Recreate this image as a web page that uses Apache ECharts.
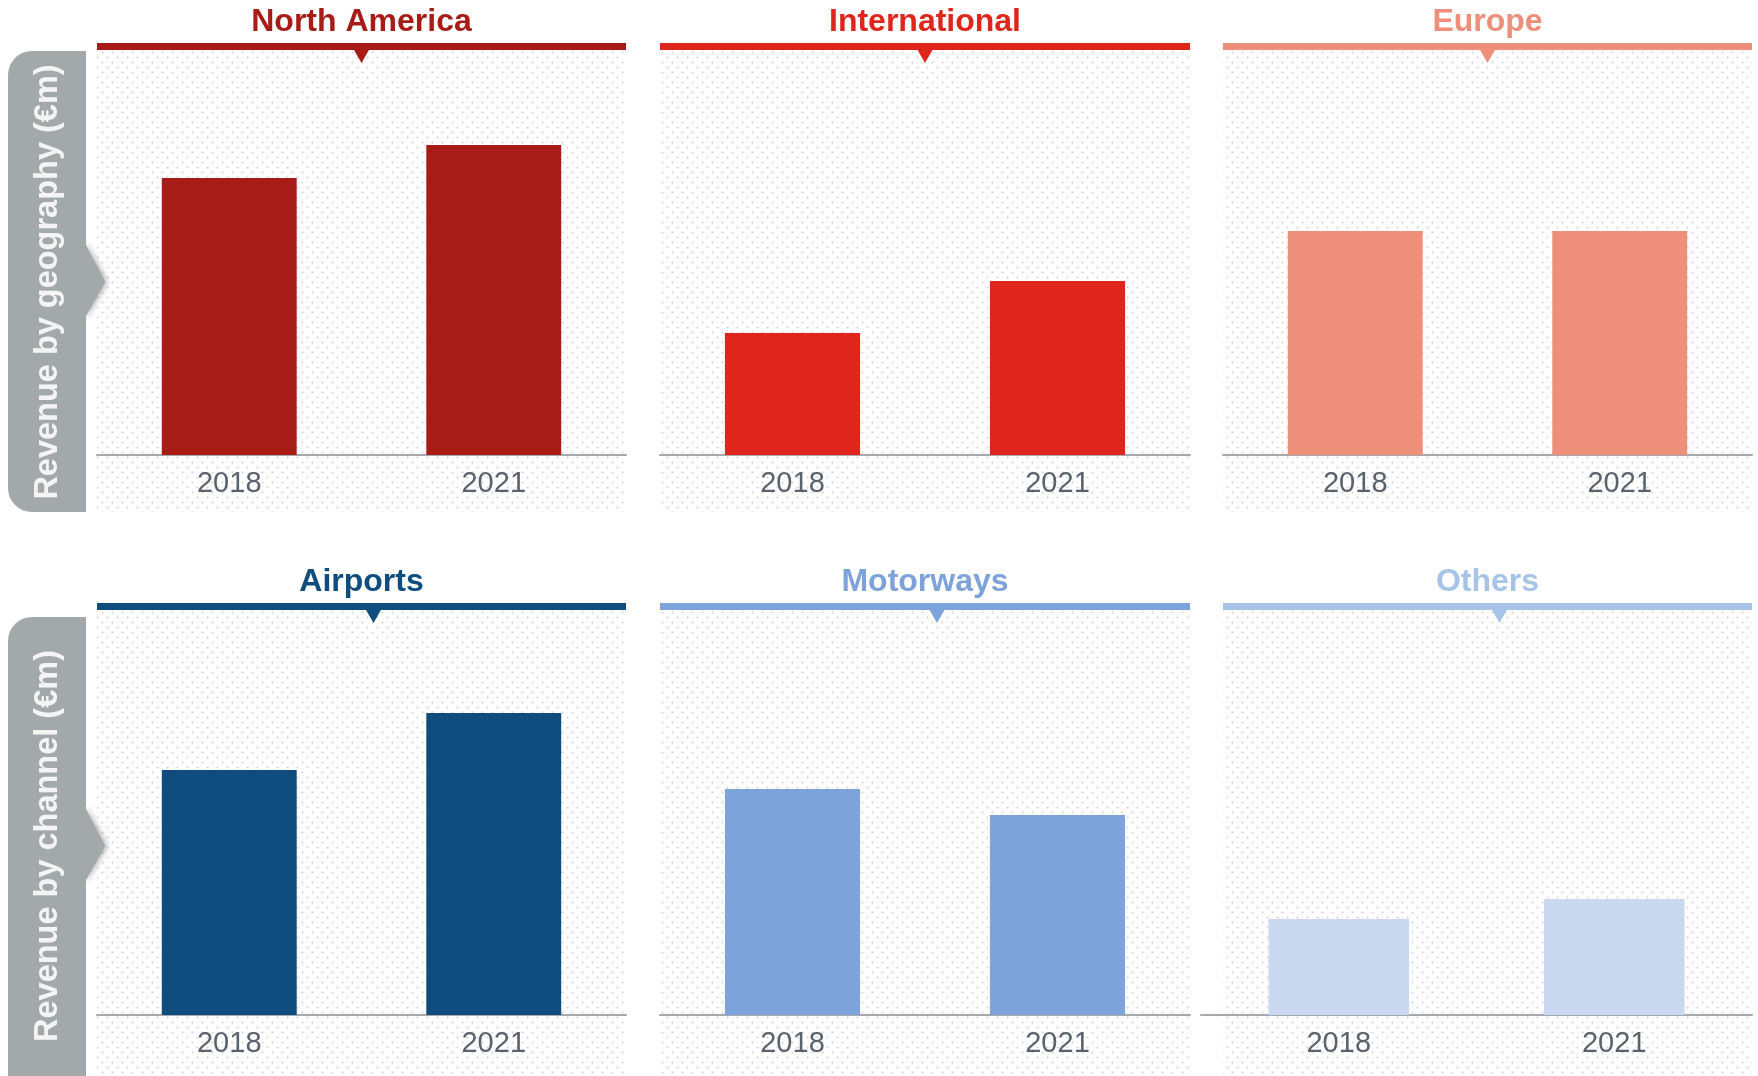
<!DOCTYPE html>
<html>
<head>
<meta charset="utf-8">
<script src="https://cdn.jsdelivr.net/npm/echarts@6/dist/echarts.min.js"></script>
<style>
html,body{margin:0;padding:0;background:#fff;}
#chart{width:1758px;height:1076px;}
</style>
</head>
<body>
<div id="chart"></div>
<script>
// ---- data ----
const categories = ['2018', '2021'];
const panelTitles = ['North America', 'International', 'Europe', 'Airports', 'Motorways', 'Others'];
const northAmerica = [2770, 3100];
const international = [1220, 1740];
const europe = [2240, 2240];
const airports = [2450, 3020];
const motorways = [2260, 2000];
const others = [960, 1160];
const sideLabels = ['Revenue by geography (€m)', 'Revenue by channel (€m)'];
const yMax = 4050;

// ---- styles ----
const FONT = "'Liberation Sans', Arial, sans-serif";
const barColors = ['#A71C16', '#E0261C', '#EE8F7B', '#0E4D7D', '#7EA3DA', '#C9D8EF'];
const headColors = ['#A71C16', '#E0261C', '#EE8F7B', '#0E4D7D', '#7EA3DA', '#A8C3E8'];
const seriesData = [northAmerica, international, europe, airports, motorways, others];

const colX0 = [97, 660, 1223];
const colX1 = [626, 1190, 1752];
const headerY = [43, 603];
const axisY = [455, 1015];
const bgBottom = [512, 1076];
const triShift = [0, 12];

// dotted pattern
const pc = document.createElement('canvas');
pc.width = 10; pc.height = 10;
const pctx = pc.getContext('2d');
pctx.fillStyle = '#ffffff';
pctx.fillRect(0, 0, 10, 10);
function dot(x, y) {
  pctx.fillStyle = '#e8e8e8';
  pctx.fillRect(x - 1, y, 3, 1);
  pctx.fillRect(x, y - 1, 1, 3);
  pctx.fillStyle = '#d6d6d6';
  pctx.fillRect(x, y, 1, 1);
}
dot(2, 2); dot(7, 7);

const grids = [], xAxes = [], yAxes = [], series = [], graphics = [];

for (let i = 0; i < 6; i++) {
  const row = Math.floor(i / 3), col = i % 3;
  const x0 = colX0[col], x1 = colX1[col];
  const gridLeft = (i === 5) ? 1201 : x0;
  const top = headerY[row] + 7;
  const cx = (x0 + x1) / 2;

  // background
  graphics.push({
    type: 'rect', z: -10, silent: true,
    shape: { x: x0, y: top, width: x1 - x0, height: bgBottom[row] - top },
    style: { fill: { image: pc, repeat: 'repeat' } }
  });
  // header bar
  graphics.push({
    type: 'rect', z: 10, silent: true,
    shape: { x: x0, y: headerY[row], width: x1 - x0, height: 7 },
    style: { fill: headColors[i] }
  });
  // pointer
  const tx = cx + triShift[row];
  graphics.push({
    type: 'polygon', z: 10, silent: true,
    shape: { points: [[tx - 8, top - 1], [tx + 8, top - 1], [tx, top + 13]] },
    style: { fill: headColors[i] }
  });
  // title
  graphics.push({
    type: 'text', z: 10, silent: true,
    x: cx, y: headerY[row] - 21,
    style: {
      text: panelTitles[i], fill: headColors[i],
      font: "bold 32px " + FONT, align: 'center', verticalAlign: 'middle'
    }
  });

  grids.push({ left: gridLeft, width: x1 - gridLeft, top: top, height: axisY[row] - top });
  xAxes.push({
    type: 'category', gridIndex: i, data: categories,
    axisLine: { show: true, lineStyle: { color: '#a6a9ad', width: 2 } },
    axisTick: { show: false },
    axisLabel: { color: '#5a636d', fontSize: 29, fontFamily: FONT, margin: 14 }
  });
  yAxes.push({
    type: 'value', gridIndex: i, min: 0, max: yMax, show: false,
    splitLine: { show: false }
  });
  series.push({
    type: 'bar', xAxisIndex: i, yAxisIndex: i, data: seriesData[i],
    barWidth: '51%', itemStyle: { color: barColors[i] }, silent: true
  });
}

// side labels
const sideTop = [51, 617], sideBottom = [512, 1100];
for (let r = 0; r < 2; r++) {
  const y0 = sideTop[r], y1 = sideBottom[r];
  const mid = r === 0 ? 282 : 846;
  graphics.push({
    type: 'polygon', z: 4, silent: true,
    shape: { points: [[84, mid - 39], [105, mid], [84, mid + 36]] },
    style: { fill: '#A3A9AB', shadowBlur: 6, shadowColor: 'rgba(0,0,0,0.35)', shadowOffsetX: 2 }
  });
  graphics.push({
    type: 'rect', z: 5, silent: true,
    shape: { x: 8, y: y0, width: 78, height: y1 - y0, r: [24, 0, 0, 24] },
    style: { fill: '#A3A9AB' }
  });
  graphics.push({
    type: 'polygon', z: 5, silent: true,
    shape: { points: [[85, mid - 39], [105, mid], [85, mid + 36]] },
    style: { fill: '#A3A9AB' }
  });
  graphics.push({
    type: 'text', z: 6, silent: true,
    x: 48, y: mid, rotation: Math.PI / 2,
    style: {
      text: sideLabels[r], fill: '#F4F4F4',
      font: "bold 32.5px " + FONT, align: 'center', verticalAlign: 'middle'
    }
  });
}

const chart = echarts.init(document.getElementById('chart'), null, { renderer: 'canvas' });
chart.setOption({
  animation: false,
  backgroundColor: '#ffffff',
  grid: grids,
  xAxis: xAxes,
  yAxis: yAxes,
  series: series,
  graphic: { elements: graphics }
});
</script>
</body>
</html>
